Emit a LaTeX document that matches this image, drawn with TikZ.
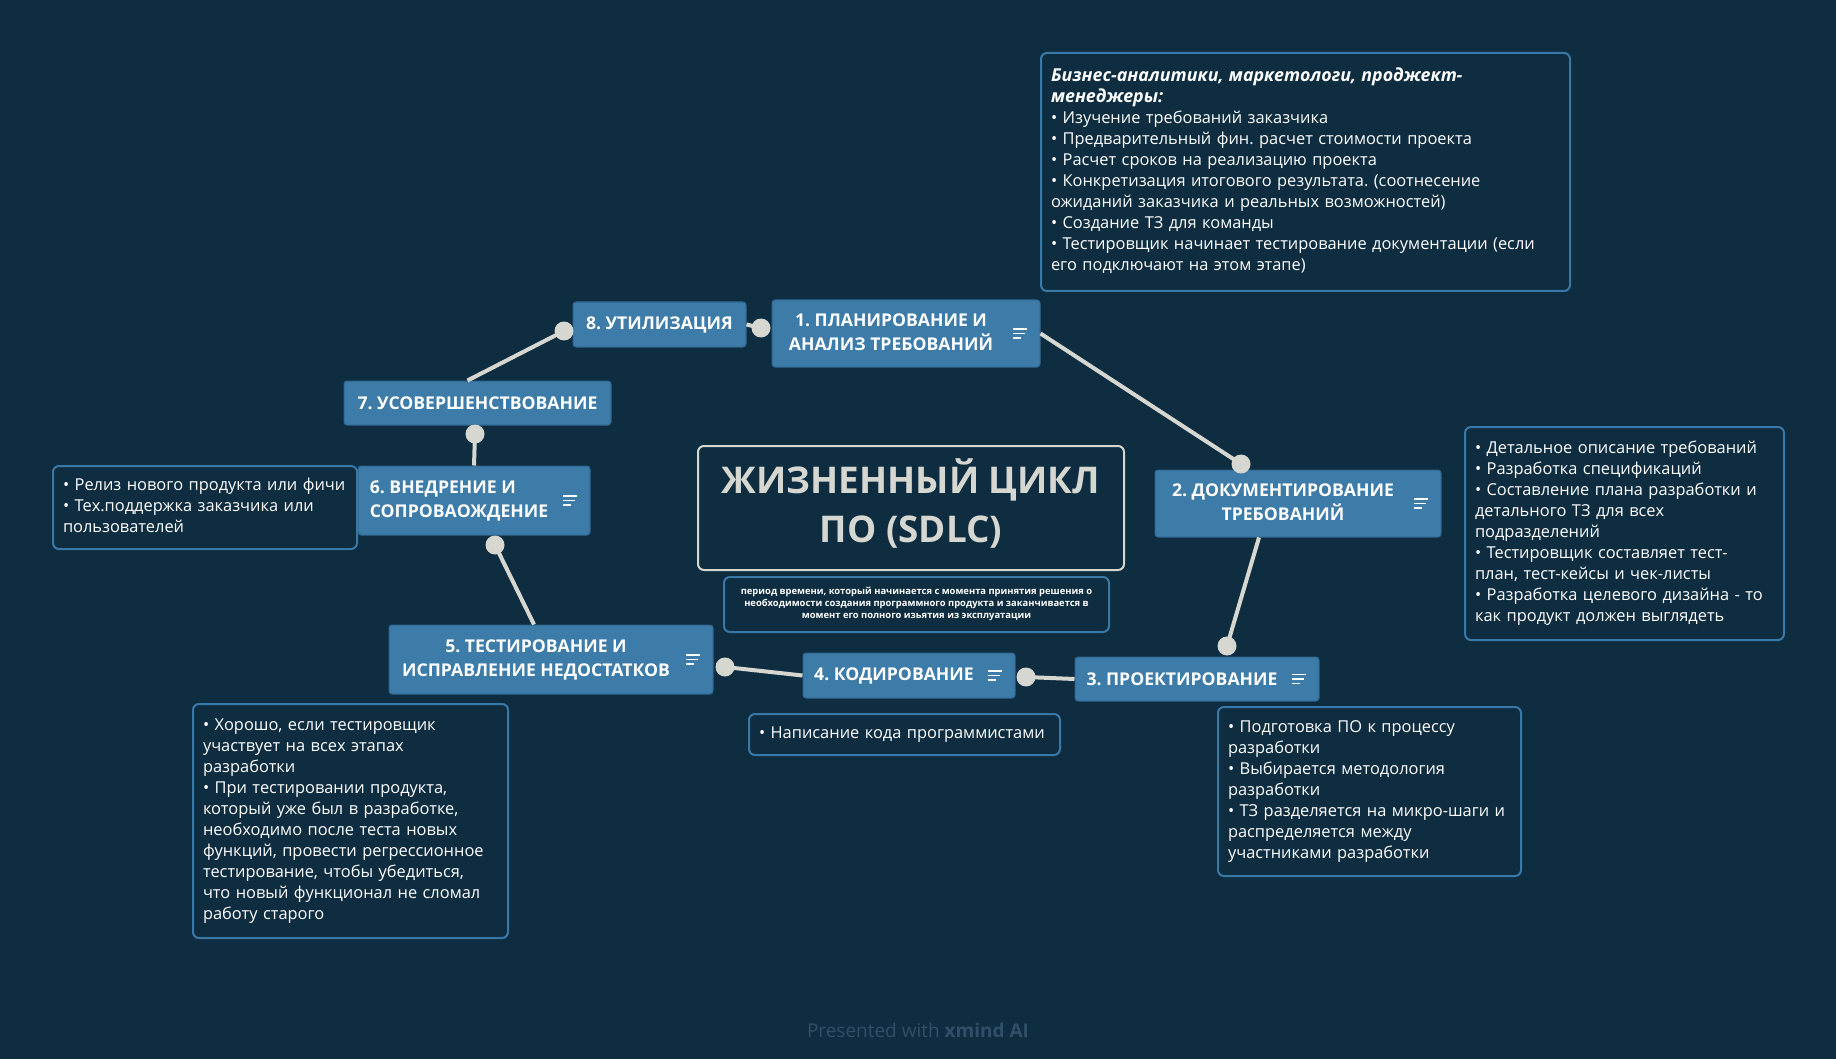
\documentclass[tikz,border=0pt]{standalone}
\usepackage{fontspec}
\setmainfont{Open Sans}
\frenchspacing
\usetikzlibrary{positioning, calc}
\definecolor{bgnavy}{HTML}{0E2D41}
\definecolor{stagefill}{HTML}{3D7BA8}
\definecolor{stageedge}{HTML}{2F6691}
\definecolor{noteedge}{HTML}{3A78A7}
\definecolor{linegray}{HTML}{D6D7D1}
\definecolor{footgray}{HTML}{30506A}
\newcommand{\rows}[2][l]{\begin{tabular}{@{}#1@{}}#2\end{tabular}}
\newcommand{\lead}[1]{{\fontsize{17.8}{21}\selectfont\bfseries\itshape #1}}
\tikzset{
    stage/.style={rectangle, draw=stageedge, fill=stagefill, line width=1pt, rounded corners=3pt, text=white, font=\bfseries\fontsize{17.6}{24}\selectfont, inner sep=0pt},
    hstage/.style={stage, execute at end node={\hspace{30pt}}, path picture={
        \draw[white, line width=1.7pt, sharp corners]
            ([xshift=-27pt,yshift=4.5pt]path picture bounding box.east) -- ++(14pt,0pt)
            ([xshift=-27pt]path picture bounding box.east) -- ++(12pt,0pt)
            ([xshift=-27pt,yshift=-4.5pt]path picture bounding box.east) -- ++(8pt,0pt);}},
    note/.style={rectangle, draw=noteedge, line width=2pt, rounded corners=6pt, text=white, font=\fontsize{16.4}{21}\selectfont, anchor=north west, inner xsep=10pt, inner ysep=0pt},
    headbox/.style={rectangle, draw=linegray, line width=2pt, rounded corners=6pt, text=linegray, font=\bfseries\fontsize{36.8}{49}\selectfont, inner sep=0pt},
    subbox/.style={rectangle, draw=noteedge, line width=2pt, rounded corners=6pt, text=white, font=\bfseries\fontsize{9.4}{12}\selectfont, inner sep=0pt},
    knob/.style={circle, fill=linegray, minimum size=19pt, inner sep=0pt},
    link/.style={draw=linegray, line width=4pt},
}
\begin{document}
\begin{tikzpicture}[x=1pt, y=-1pt]
    \path[use as bounding box, fill=bgnavy] (0,0) rectangle (1836,1059);

    \node [headbox, minimum width=426pt, minimum height=124pt] (cycle) at (911,508) {\rows[c]{ЖИЗНЕННЫЙ ЦИКЛ\\ПО (SDLC)}};
    \node [subbox, minimum width=385pt, minimum height=55pt] (period) at (916.5,604.5) {\rows[c]{период времени, который начинается с момента принятия решения о\\необходимости создания программного продукта и заканчивается в\\момент его полного изьятия из эксплуатации}};

    \node [hstage, minimum width=268pt, minimum height=67pt] (plan) at (906,333.5) {\rows[c]{1. ПЛАНИРОВАНИЕ И\\АНАЛИЗ ТРЕБОВАНИЙ}};
    \node [hstage, minimum width=286pt, minimum height=67pt] (docs) at (1298,503.5) {\rows[c]{2. ДОКУМЕНТИРОВАНИЕ\\ТРЕБОВАНИЙ}};
    \node [hstage, minimum width=244pt, minimum height=44pt] (design) at (1197,679) {3. ПРОЕКТИРОВАНИЕ};
    \node [hstage, minimum width=212pt, minimum height=45pt] (code) at (909,675.5) {4. КОДИРОВАНИЕ};
    \node [hstage, minimum width=324pt, minimum height=69pt] (test) at (551,659.5) {\rows[c]{5. ТЕСТИРОВАНИЕ И\\ИСПРАВЛЕНИЕ НЕДОСТАТКОВ}};
    \node [hstage, minimum width=232pt, minimum height=69pt] (deploy) at (474,500.5) {\rows[l]{6. ВНЕДРЕНИЕ И\\СОПРОВАОЖДЕНИЕ}};
    \node [stage, minimum width=267pt, minimum height=44pt] (improve) at (477.5,403) {7. УСОВЕРШЕНСТВОВАНИЕ};
    \node [stage, minimum width=173pt, minimum height=45pt] (util) at (659.5,324.5) {8. УТИЛИЗАЦИЯ};

    \node [note, text width=509pt, minimum height=238pt] (nplan) at (1040,52) {\rows{\lead{Бизнес-аналитики, маркетологи, проджект-}\\\lead{менеджеры:}\\• Изучение требований заказчика\\• Предварительный фин. расчет стоимости проекта\\• Расчет сроков на реализацию проекта\\• Конкретизация итогового результата. (соотнесение\\ожиданий заказчика и реальных возможностей)\\• Создание ТЗ для команды\\• Тестировщик начинает тестирование документации (если\\его подключают на этом этапе)}};
    \node [note, text width=299pt, minimum height=213pt] (ndocs) at (1464,426) {\rows{• Детальное описание требований\\• Разработка спецификаций\\• Составление плана разработки и\\детального ТЗ для всех\\подразделений\\• Тестировщик составляет тест-\\план, тест-кейсы и чек-листы\\• Разработка целевого дизайна - то\\как продукт должен выглядеть}};
    \node [note, text width=283pt, minimum height=169pt] (ndesign) at (1217,706) {\rows{• Подготовка ПО к процессу\\разработки\\• Выбирается методология\\разработки\\• ТЗ разделяется на микро-шаги и\\распределяется между\\участниками разработки}};
    \node [note, text width=291pt, minimum height=41pt] (ncode) at (748,713) {\rows{• Написание кода программистами}};
    \node [note, text width=295pt, minimum height=234pt] (ntest) at (192,703) {\rows{• Хорошо, если тестировщик\\участвует на всех этапах\\разработки\\• При тестировании продукта,\\который уже был в разработке,\\необходимо после теста новых\\функций, провести регрессионное\\тестирование, чтобы убедиться,\\что новый функционал не сломал\\работу старого}};
    \node [note, text width=284pt, minimum height=83pt] (ndeploy) at (52,465) {\rows{• Релиз нового продукта или фичи\\• Тех.поддержка заказчика или\\пользователей}};

    \node [knob] (kdocs) at (1241,464) {};
    \node [knob] (kdesign) at (1227,646) {};
    \node [knob] (kcode) at (1026,677) {};
    \node [knob] (ktest) at (725,667) {};
    \node [knob] (kdeploy) at (495,545) {};
    \node [knob] (kimprove) at (475,434) {};
    \node [knob] (kutil) at (564,331) {};
    \node [knob] (kplan) at (761,328) {};

    \draw[link] (plan.east) -- (kdocs.center);
    \draw[link] ([xshift=-39pt]docs.south) -- (kdesign.center);
    \draw[link] (design.west) -- (kcode.center);
    \draw[link] (code.west) -- (ktest.center);
    \draw[link] ([xshift=-17pt]test.north) -- (kdeploy.center);
    \draw[link] (deploy.north) -- (kimprove.center);
    \draw[link] ([xshift=-10pt]improve.north) -- (kutil.center);
    \draw[link] (util.east) -- (kplan.center);

    \node [font=\fontsize{19}{22}\selectfont, text=footgray] (credit) at (918,1030) {Presented with \textbf{xmind AI}};
\end{tikzpicture}
\end{document}
